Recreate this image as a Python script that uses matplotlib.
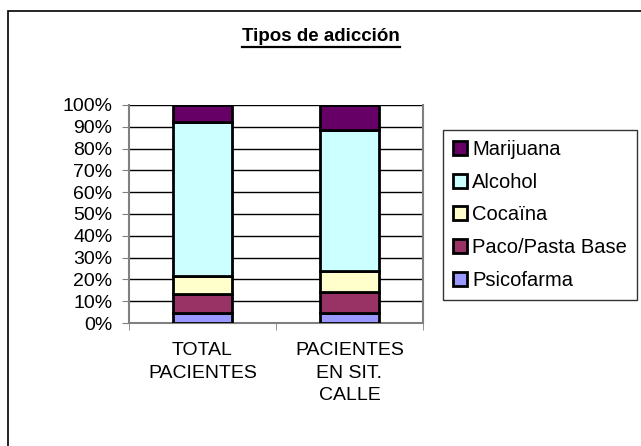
import numpy as np
import matplotlib.pyplot as plt
from matplotlib.patches import Rectangle
from matplotlib.lines import Line2D
from matplotlib.ticker import PercentFormatter, FixedLocator

plt.rcParams['font.family'] = ['Liberation Sans', 'DejaVu Sans']

# data (percent of each group)
categories = ["TOTAL\nPACIENTES", "PACIENTES\nEN SIT.\nCALLE"]
series = ["Psicofarma", "Paco/Pasta Base", "Cocaïna", "Alcohol", "Marijuana"]
psicofarma = [4.5, 4.7]
paco = [8.7, 9.4]
cocaina = [8.4, 9.8]
alcohol = [70.7, 64.6]
marijuana = [7.7, 11.5]
colors = ["#9999FF", "#993366", "#FFFFCC", "#CCFFFF", "#660066"]

values = [psicofarma, paco, cocaina, alcohol, marijuana]

fig = plt.figure(figsize=(6.41, 4.46), dpi=100)
ax = fig.add_axes([129 / 641, 1 - 323 / 446, 294 / 641, 218 / 446])

# stacked bars
x = np.arange(len(categories))
bottom = np.zeros(len(categories))
handles = []
for name, vals, col in zip(series, values, colors):
	b = ax.bar(x, vals, 0.4, bottom=bottom, color=col, edgecolor="black",
			   linewidth=2, label=name, zorder=3)
	handles.append(b)
	bottom = bottom + np.array(vals)

ax.set_xlim(-0.5, 1.5)
ax.set_ylim(0, 100)
ax.set_yticks(np.arange(0, 101, 10))
ax.yaxis.set_major_formatter(PercentFormatter(100, decimals=0))
ax.grid(axis="y", color="black", linewidth=1, zorder=0)

ax.set_xticks(x)
ax.set_xticklabels(categories, linespacing=1.4)
ax.tick_params(axis="x", which="major", length=0, pad=14)
ax.xaxis.set_minor_locator(FixedLocator([-0.5, 0.5, 1.5]))
ax.tick_params(axis="x", which="minor", length=5, color="#808080", direction="out")
ax.tick_params(axis="y", length=5, color="#808080", direction="out", pad=7)
ax.tick_params(labelsize=14)

for s in ["left", "bottom", "right"]:
	ax.spines[s].set_color("#808080")
	ax.spines[s].set_linewidth(1.5)
ax.spines["top"].set_visible(False)

# legend, top entry first
leg = fig.legend(handles[::-1], series[::-1], loc="upper left",
				 bbox_to_anchor=(443 / 641, 1 - 130 / 446), borderaxespad=0,
				 fontsize=14.5, frameon=True, fancybox=False, handlelength=0.7,
				 handleheight=0.7, handletextpad=0.25, labelspacing=0.68,
				 borderpad=0.5)
leg.get_frame().set_edgecolor("black")
leg.get_frame().set_linewidth(1)

# title with underline
title = fig.text(321 / 641, 1 - 41 / 446, "Tipos de adicción", ha="center", va="baseline",
				 fontsize=13.5, fontweight="bold")
fig.canvas.draw()
bb = title.get_window_extent()
y_line = fig.bbox.height - 47
fig.add_artist(Line2D([bb.x0, bb.x1], [y_line, y_line], transform=None,
					  color="black", linewidth=1.6))

# outer chart frame (runs off the image on the right and bottom)
fig.patches.append(Rectangle((8 / 641, -0.05), 1.1, 1 - 11 / 446 + 0.05,
							 transform=fig.transFigure, fill=False,
							 edgecolor="black", linewidth=1.2))

plt.savefig("out.png", dpi=100)
